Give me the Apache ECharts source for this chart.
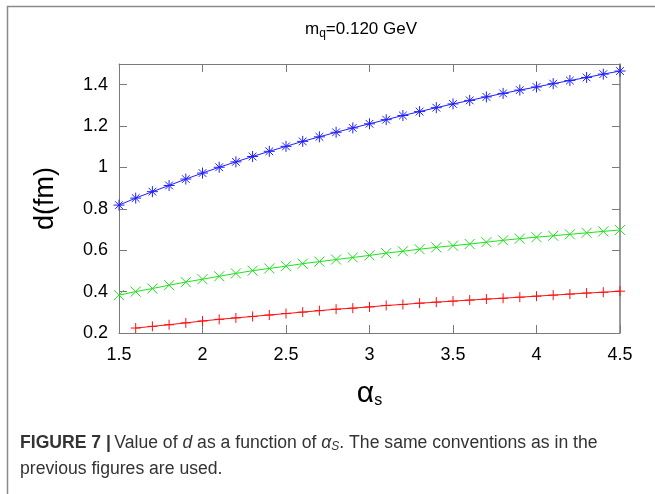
<!DOCTYPE html>
<html>
<head>
<meta charset="utf-8">
<script src="https://cdn.jsdelivr.net/npm/echarts@6/dist/echarts.min.js"></script>
<style>
  html, body { margin: 0; padding: 0; background: #fff; }
  #main { width: 655px; height: 494px; }
</style>
</head>
<body>
<div id="main"></div>
<script>
// alpha_s values (x)
var alphaAll = [1.5, 1.6, 1.7, 1.8, 1.9, 2.0, 2.1, 2.2, 2.3, 2.4, 2.5, 2.6, 2.7, 2.8, 2.9, 3.0,
  3.1, 3.2, 3.3, 3.4, 3.5, 3.6, 3.7, 3.8, 3.9, 4.0, 4.1, 4.2, 4.3, 4.4, 4.5];
var alphaRed = [1.6, 1.7, 1.8, 1.9, 2.0, 2.1, 2.2, 2.3, 2.4, 2.5, 2.6, 2.7, 2.8, 2.9, 3.0,
  3.1, 3.2, 3.3, 3.4, 3.5, 3.6, 3.7, 3.8, 3.9, 4.0, 4.1, 4.2, 4.3, 4.4, 4.5];
// d (fm)
var dBlue = [0.818, 0.852, 0.883, 0.913, 0.944, 0.973, 1.001, 1.027, 1.053, 1.078, 1.102, 1.126,
  1.148, 1.170, 1.191, 1.211, 1.231, 1.251, 1.270, 1.289, 1.307, 1.324, 1.341, 1.358, 1.374,
  1.389, 1.405, 1.420, 1.435, 1.451, 1.466];
var dGreen = [0.383, 0.400, 0.415, 0.431, 0.446, 0.460, 0.474, 0.488, 0.501, 0.512, 0.523, 0.535,
  0.545, 0.555, 0.565, 0.575, 0.586, 0.595, 0.605, 0.614, 0.622, 0.630, 0.639, 0.648, 0.656,
  0.663, 0.670, 0.677, 0.684, 0.691, 0.698];
var dRed = [0.224, 0.232, 0.240, 0.249, 0.258, 0.266, 0.273, 0.280, 0.287, 0.294, 0.301, 0.308,
  0.315, 0.320, 0.326, 0.333, 0.338, 0.344, 0.349, 0.354, 0.359, 0.364, 0.368, 0.373, 0.378,
  0.383, 0.388, 0.393, 0.397, 0.402];

function pairs(xs, ys) {
  return xs.map(function (x, i) { return [x, ys[i]]; });
}

var symPlus = 'path://M0,5L10,5M5,0L5,10';
var symCross = 'path://M0,0L10,10M10,0L0,10';
var symStar = 'path://M0,5L10,5M5,0L5,10M1.5,1.5L8.5,8.5M8.5,1.5L1.5,8.5';

var frameColor = '#7a7a7a';
var labelFont = '"Liberation Sans", Arial, sans-serif';

function makeSeries(name, xs, ys, color, sym, size) {
  return {
    name: name,
    type: 'line',
    data: pairs(xs, ys),
    symbol: sym,
    symbolSize: size,
    showAllSymbol: true,
    lineStyle: { color: color, width: 1 },
    itemStyle: { color: color, borderColor: color, borderWidth: 1 },
    emphasis: { disabled: true },
    animation: false
  };
}

var myChart = echarts.init(document.getElementById('main'));
var option = {
  backgroundColor: '#fff',
  animation: false,
  grid: { left: 119, right: 35, top: 64, bottom: 161 },
  xAxis: [{
    type: 'value',
    min: 1.5, max: 4.5, interval: 0.5,
    name: '{a|α}{s|s}',
    nameLocation: 'middle',
    nameGap: 46,
    nameTextStyle: {
      rich: {
        a: { fontSize: 30, fontFamily: labelFont, color: '#000' },
        s: { fontSize: 16, fontFamily: labelFont, color: '#000', verticalAlign: 'bottom', padding: [13, 0, 0, 0] }
      }
    },
    axisLine: { lineStyle: { color: frameColor, width: 1 } },
    axisTick: { inside: true, length: 8, lineStyle: { color: frameColor } },
    axisLabel: { color: '#000', fontSize: 18, fontFamily: labelFont, margin: 13 },
    splitLine: { show: false }
  }, {
    type: 'value', position: 'top',
    min: 1.5, max: 4.5, interval: 0.5,
    axisLine: { show: true, lineStyle: { color: frameColor, width: 1 } },
    axisTick: { show: true, inside: true, length: 8, lineStyle: { color: frameColor } },
    axisLabel: { show: false },
    splitLine: { show: false }
  }],
  yAxis: [{
    type: 'value',
    min: 0.2, max: 1.5, interval: 0.2,
    name: 'd(fm)',
    nameLocation: 'middle',
    nameGap: 60,
    nameTextStyle: { fontSize: 27, fontFamily: labelFont, color: '#000' },
    axisLine: { show: true, lineStyle: { color: frameColor, width: 1 } },
    axisTick: { show: true, inside: true, length: 8, lineStyle: { color: frameColor } },
    axisLabel: {
      color: '#000', fontSize: 18, fontFamily: labelFont, margin: 11,
      showMaxLabel: false,
      formatter: function (v) { return String(Math.round(v * 10) / 10); }
    },
    splitLine: { show: false }
  }, {
    type: 'value', position: 'right',
    min: 0.2, max: 1.5, interval: 0.2,
    axisLine: { show: true, lineStyle: { color: frameColor, width: 1.5 } },
    axisTick: { show: true, inside: true, length: 8, lineStyle: { color: frameColor } },
    axisLabel: { show: false },
    splitLine: { show: false }
  }],
  series: [
    makeSeries('blue', alphaAll, dBlue, '#2020ff', symStar, 11),
    makeSeries('green', alphaAll, dGreen, '#20e020', symCross, 10),
    makeSeries('red', alphaRed, dRed, '#ff1010', symPlus, 10)
  ],
  graphic: [
    {
      type: 'rect', silent: true,
      shape: { x: 7.5, y: 6.5, width: 720, height: 600 },
      style: { fill: 'none', stroke: '#8a8a8a', lineWidth: 1.5 }
    },
    {
      type: 'text', left: 305, top: 21,
      style: {
        text: '{m|m}{q|q}{m|=0.120 GeV}',
        rich: {
          m: { fontSize: 17, fontFamily: labelFont, fill: '#000' },
          q: { fontSize: 12, fontFamily: labelFont, fill: '#000', padding: [8, 0, 0, 0] }
        }
      }
    },
    {
      type: 'text', left: 20, top: 434,
      style: {
        text: '{b|FIGURE 7 |} {r|Value of }{i|d}{r| as a function of }{i|α}{sub|S}{r|. The same conventions as in the}',
        rich: {
          b: { fontSize: 17.6, fontWeight: 'bold', fontFamily: labelFont, fill: '#333' },
          r: { fontSize: 17.6, fontFamily: labelFont, fill: '#333' },
          i: { fontSize: 17.6, fontStyle: 'italic', fontFamily: labelFont, fill: '#333' },
          sub: { fontSize: 12, fontStyle: 'italic', fontFamily: labelFont, fill: '#333', padding: [7, 0, 0, 0] }
        }
      }
    },
    {
      type: 'text', left: 20, top: 460,
      style: {
        text: 'previous figures are used.',
        fontSize: 17.6, fontFamily: labelFont, fill: '#333'
      }
    }
  ]
};
myChart.setOption(option);
</script>
</body>
</html>
